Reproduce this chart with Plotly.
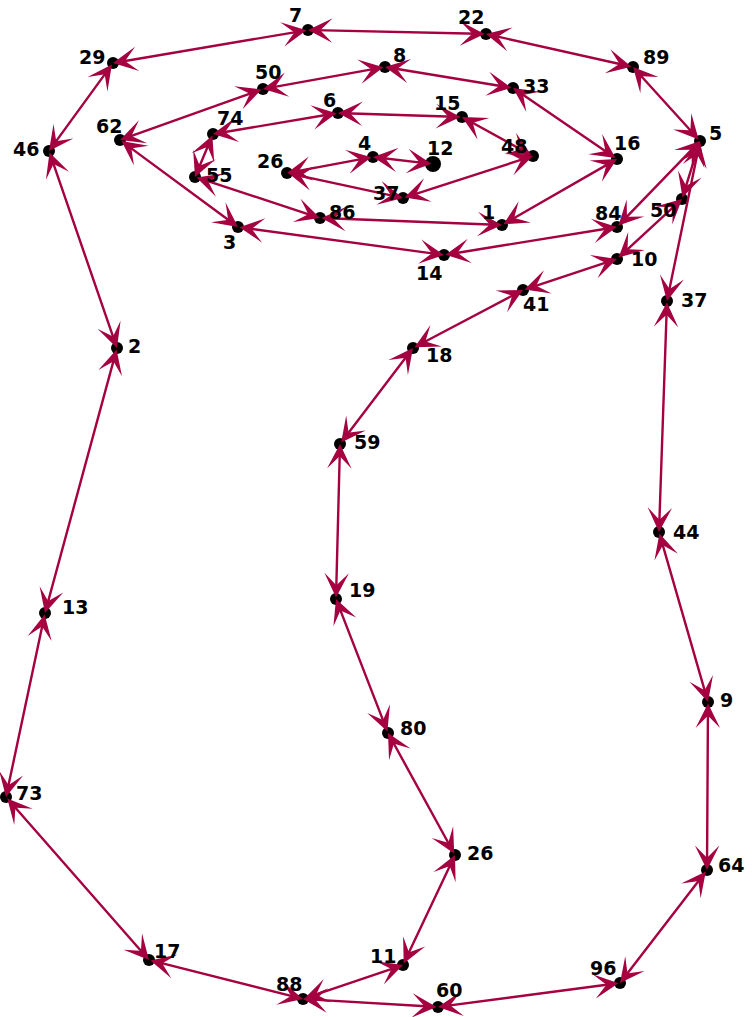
import plotly.graph_objects as go

# Points (dot label, x, y in picture coordinates)
point_labels = ["12", "4", "26", "37", "48", "15", "6", "74", "55", "86", "1", "16",
                "33", "8", "50", "62", "3", "14", "84", "5", "89", "22", "7", "29",
                "46", "2", "13", "73", "17", "88", "11", "26", "80", "19", "59", "18",
                "41", "10", "50", "37", "44", "9", "64", "96", "60"]
point_x = [433, 373, 287, 403, 533, 462, 338, 213, 195, 320, 502, 617,
           513, 385, 263, 120, 238, 444, 617, 700, 633, 486, 308, 113,
           49, 117, 45, 6, 149, 303, 403, 455, 388, 336, 340, 413,
           523, 617, 682, 667, 659, 708, 707, 620, 438]
point_y = [164, 157, 173, 198, 156, 117, 113, 134, 177, 218, 225, 159,
           88, 67, 89, 140, 227, 255, 227, 141, 67, 34, 30, 63,
           151, 348, 613, 797, 960, 999, 965, 855, 733, 599, 444, 348,
           290, 259, 199, 301, 532, 702, 870, 983, 1007]

# Order in which the dots are joined (indices into the lists above)
path_order = list(range(0, 20)) + [20, 21, 22, 23, 24, 25, 26, 27, 28, 29,
                                   30, 31, 32, 33, 34, 35, 36, 37, 38, 19,
                                   39, 40, 41, 42, 43, 44, 29]

# label offsets (pixels) relative to each dot
label_dx = [7, -9, -17, -17, -19, -15, -9, 17, 24, 22, -14, 10,
            23, 14, 5, -11, -9, -15, -9, 15, 23, -15, -13, -21,
            -23, 17, 30, 23, 18, -14, -20, 25, 25, 26, 27, 26,
            13, 27, -19, 27, 27, 18, 24, -17, 11]
label_dy = [-16, -14, -12, -5, -10, -14, -13, -16, -2, -6, -13, -16,
            -2, -12, -17, -14, 15, 18, -14, -8, -10, -17, -15, -6,
            -2, -2, -6, -4, -9, -15, -9, -2, -5, -9, -2, 7,
            14, 0, 11, -1, 0, -2, -5, -15, -17]

ARROW = "#A50040"
W, H = 755, 1017

fig = go.Figure()

annotations = []
for a, b in zip(path_order[:-1], path_order[1:]):
    annotations.append(dict(
        x=point_x[b], y=point_y[b], ax=point_x[a], ay=point_y[a],
        xref="x", yref="y", axref="x", ayref="y",
        text="", showarrow=True, arrowside="end+start",
        arrowhead=3, startarrowhead=3, arrowsize=1.7, startarrowsize=1.7,
        arrowwidth=2.4, arrowcolor=ARROW, standoff=0, startstandoff=0,
    ))

sizes = [16 if i == 0 else 12 for i in range(len(point_x))]
fig.add_trace(go.Scatter(
    x=point_x, y=point_y, mode="markers",
    marker=dict(color="#000000", size=sizes, opacity=1,
                line=dict(width=0, color="#000000")),
    hoverinfo="skip", showlegend=False,
))

for lab, x, y, dx, dy in zip(point_labels, point_x, point_y, label_dx, label_dy):
    annotations.append(dict(
        x=x, y=y, xref="x", yref="y", text=lab, showarrow=False,
        xshift=dx, yshift=-dy,
        font=dict(family="DejaVu Sans", size=19, color="black", weight="bold"),
    ))

fig.update_layout(
    width=W, height=H,
    margin=dict(l=0, r=0, t=0, b=0),
    paper_bgcolor="white", plot_bgcolor="white",
    xaxis=dict(range=[0, W], visible=False, fixedrange=True),
    yaxis=dict(range=[H, 0], visible=False, fixedrange=True),
    annotations=annotations,
)

fig.write_html("out.html", config={"displayModeBar": False},
               post_script="document.body.style.margin='0px';document.body.style.overflow='hidden';")
